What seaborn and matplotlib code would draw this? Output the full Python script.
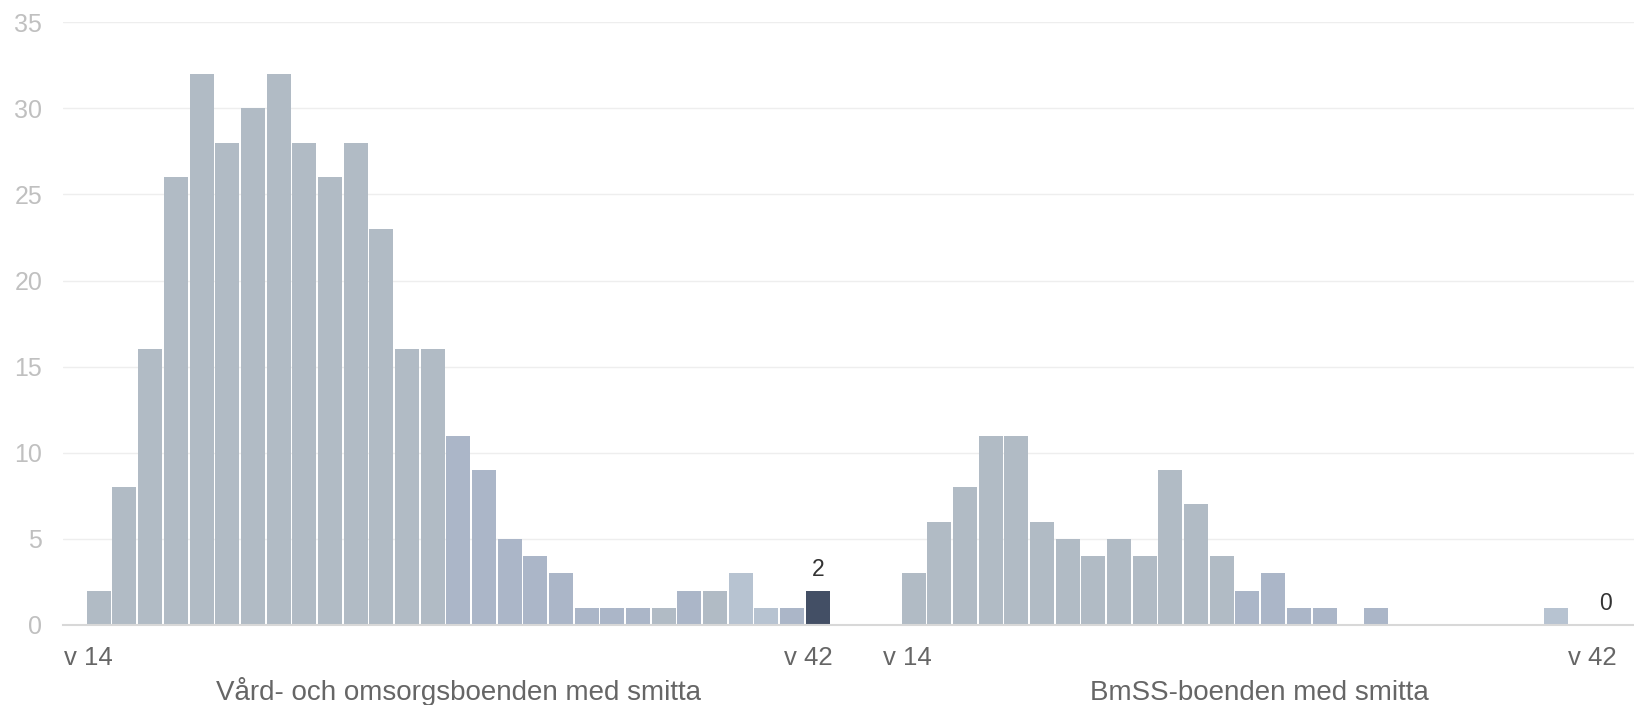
import numpy as np
import pandas as pd
import matplotlib
matplotlib.use("Agg")
import matplotlib.pyplot as plt
import matplotlib.transforms as mtransforms
import seaborn as sns

# ===================== data =====================

weeks = list(range(14, 43))

vard_values = [2, 8, 16, 26, 32, 28, 30, 32, 28, 26, 28, 23, 16, 16, 11,
               9, 5, 4, 3, 1, 1, 1, 1, 2, 2, 3, 1, 1, 2]
vard_shade = ["g"] * 14 + ["b"] * 8 + ["g", "b", "g", "l", "l", "b", "d"]

bmss_values = [3, 6, 8, 11, 11, 6, 5, 4, 5, 4, 9, 7, 4, 2, 3,
               1, 1, 0, 1, 0, 0, 0, 0, 0, 0, 1, 0, 0, 0]
bmss_shade = ["g"] * 13 + ["b"] * 6 + ["g"] * 6 + ["l", "g", "g", "g"]

panel_titles = ["Vård- och omsorgsboenden med smitta", "BmSS-boenden med smitta"]
yticks = [0, 5, 10, 15, 20, 25, 30, 35]

# ===================== styles =====================

palette = {"g": "#b1bbc5", "b": "#abb6c8", "l": "#b7c3d1", "d": "#434f65"}
PANEL_OFFSET = 31.73   # start of second group, in bar slots
FONT = "Liberation Sans"

# ===================== table =====================

frames = []
for p, (vals, shades) in enumerate([(vard_values, vard_shade), (bmss_values, bmss_shade)]):
    frames.append(pd.DataFrame({
        "pos": np.arange(len(weeks)) + p * PANEL_OFFSET,
        "value": vals,
        "shade": shades,
        "week": weeks,
        "panel": p,
    }))
df = pd.concat(frames, ignore_index=True)

# ===================== plot =====================

sns.set_style("white")
plt.rcParams["font.family"] = [FONT, "DejaVu Sans"]

W, H = 1634, 705
fig = plt.figure(figsize=(W / 100, H / 100), dpi=100)
ax = fig.add_axes([63 / W, 1 - 625 / H, (W - 63) / W, (625 - 22.3) / H])

sns.barplot(
    data=df, x="pos", y="value", hue="shade", palette=palette,
    native_scale=True, dodge=False, width=0.935, errorbar=None,
    legend=False, saturation=1, linewidth=0, ax=ax
)

ax.set_ylim(0, 35)
ax.set_xlim((63 - 98.8) / 25.68, (W - 98.8) / 25.68)
ax.set_yticks(yticks)
ax.set_yticklabels([str(t) for t in yticks])
ax.yaxis.grid(True, color="#eeeeee", linewidth=1.0)
ax.set_axisbelow(True)
for s in ["top", "right", "left"]:
    ax.spines[s].set_visible(False)
ax.spines["bottom"].set_color("#d8d8d8")
ax.spines["bottom"].set_linewidth(1.5)
ax.tick_params(axis="y", length=0, pad=15, labelsize=18, labelcolor="#c0c0c0")
ax.tick_params(axis="x", length=0, pad=15, labelsize=18.5, labelcolor="#666666")
ax.set_xlabel("")
ax.set_ylabel("")

# only first and last week shown per group
tick_pos, tick_lab = [], []
for p in range(2):
    sub = df[df["panel"] == p]
    tick_pos += [sub["pos"].iloc[0], sub["pos"].iloc[-1]]
    tick_lab += [f"v {sub['week'].iloc[0]}", f"v {sub['week'].iloc[-1]}"]
ax.set_xticks(tick_pos)
ax.set_xticklabels(tick_lab)
shifts = [-10, -10, -6, -40]
for lab, dx in zip(ax.get_xticklabels(), shifts):
    lab.set_transform(lab.get_transform() + mtransforms.ScaledTranslation(dx / 100, 0, fig.dpi_scale_trans))

# value label on latest week
for p in range(2):
    sub = df[df["panel"] == p]
    last = sub.iloc[-1]
    if p == 0:
        ax.annotate(str(last["value"]), xy=(last["pos"], last["value"]),
                    xytext=(0, 15), textcoords="offset pixels",
                    ha="center", va="baseline", fontsize=16.5, color="#333333")
    else:
        ax.annotate(str(last["value"]), xy=(last["pos"], last["value"]),
                    xytext=(-21, 15), textcoords="offset pixels",
                    ha="right", va="baseline", fontsize=16.5, color="#333333")

# group titles under the axis
title_shift = [0, -14]
for p in range(2):
    sub = df[df["panel"] == p]
    xc = sub["pos"].mean()
    ax.annotate(panel_titles[p], xy=(xc, 5), xycoords=("data", "figure pixels"),
                xytext=(title_shift[p], 0), textcoords="offset pixels",
                ha="center", va="baseline", fontsize=20, color="#666666",
                annotation_clip=False)

fig.savefig("out.png", dpi=100)
